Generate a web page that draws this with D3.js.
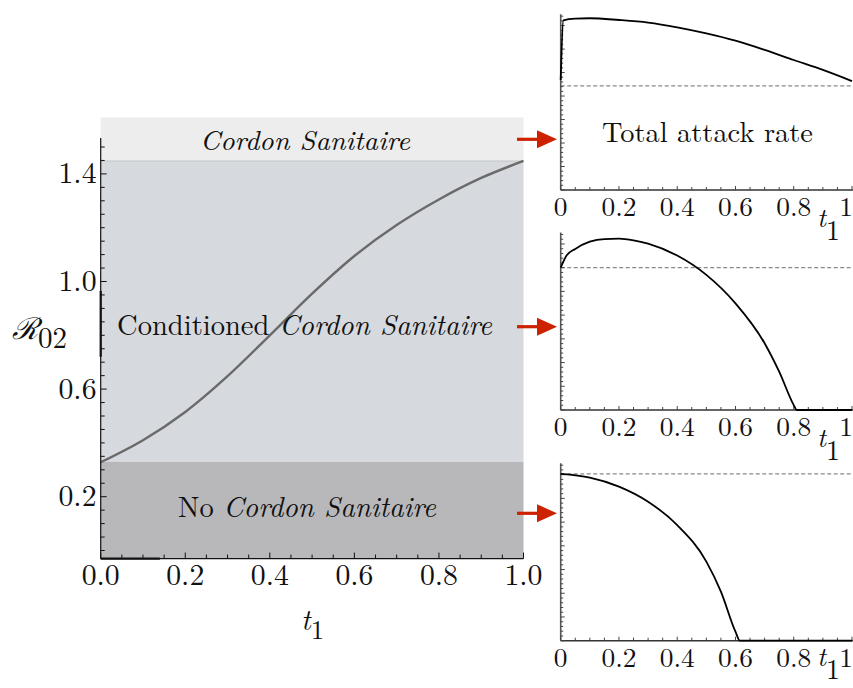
<!DOCTYPE html>
<html><head><meta charset="utf-8">
<script src="https://cdn.jsdelivr.net/npm/d3@7"></script>
</head><body style="margin:0;background:#fff">
<svg id="c" width="853" height="688" style="display:block"></svg>
<script>
// ---------- data ----------
const mainT = [0,0.1,0.2,0.3,0.4,0.5,0.6,0.7,0.8,0.9,1.0];
const r02Boundary = [0.328,0.41,0.515,0.648,0.80,0.955,1.095,1.21,1.305,1.385,1.448];
const bandNames = ["Cordon Sanitaire","Conditioned Cordon Sanitaire","No Cordon Sanitaire"];
const bandLower = [1.448,0.33,-0.03];
const bandUpper = [1.61,1.448,0.33];
const mainXTicks = [0,0.2,0.4,0.6,0.8,1.0];
const mainYTicks = [0.2,0.6,1.0,1.4];

const topT = [0,0.009,0.05,0.1,0.2,0.3,0.4,0.5,0.6,0.7,0.8,0.9,1.0];
const topV = [0.632,0.975,0.985,0.987,0.977,0.962,0.935,0.900,0.858,0.805,0.747,0.690,0.626];
const midT = [0,0.02,0.05,0.1,0.15,0.2,0.25,0.3,0.4,0.5,0.6,0.7,0.75,0.8,0.81,0.9,1.0];
const midV = [0.81,0.879,0.917,0.958,0.973,0.975,0.966,0.947,0.879,0.769,0.607,0.38,0.218,0.028,0,0,0];
const botT = [0,0.1,0.2,0.3,0.4,0.5,0.55,0.6,0.615,0.7,0.8,0.9,1.0];
const botV = [0.949,0.928,0.877,0.791,0.658,0.45,0.279,0.051,0,0,0,0,0];
const dashLevels = [0.598,0.81,0.949];
const smallXTicks = [0,0.2,0.4,0.6,0.8,1];
const smallXLabels = ["0","0.2","0.4","0.6","0.8","1"];

const FONT = "'Latin Modern Roman','Liberation Serif',serif";
const svg = d3.select("#c");
function T(sel){ return sel.style("font-family",FONT).attr("fill","#111"); }
function fit(node, target){ // scale font size so the text's width equals target
  const w = node.getComputedTextLength();
  const fs = parseFloat(node.getAttribute("font-size"));
  return fs*target/w;
}

// ---------- main chart ----------
const x = d3.scaleLinear().domain([0,1]).range([100.7,523.5]);
const y = d3.scaleLinear().domain([0,1.4]).range([550.5,550.5-269*1.4]);
const bandFill = ["#ededed","#d6d9dd","#b8b8bb"];

svg.selectAll("rect.band").data(bandNames).join("rect")
  .attr("x", x(0)).attr("width", x(1)-x(0))
  .attr("y", (d,i)=>y(bandUpper[i])).attr("height",(d,i)=>y(bandLower[i])-y(bandUpper[i]))
  .attr("fill",(d,i)=>bandFill[i]);
svg.append("line").attr("x1",x(0)).attr("x2",x(1)).attr("y1",y(bandLower[0])).attr("y2",y(bandLower[0]))
  .attr("stroke","#c3c6ca").attr("stroke-width",1);

svg.append("path").datum(mainT.map((t,i)=>[t,r02Boundary[i]]))
  .attr("d", d3.line().x(d=>x(d[0])).y(d=>y(d[1])).curve(d3.curveCatmullRom))
  .attr("fill","none").attr("stroke","#6a6a6a").attr("stroke-width",2.4);

const yMin=-0.03, yMax=1.533;
const ax = svg.append("g").attr("stroke","#111");
ax.append("line").attr("x1",x(0)).attr("x2",x(0)).attr("y1",y(yMax)).attr("y2",y(yMin)).attr("stroke-width",1.2);
ax.append("line").attr("x1",x(0)).attr("x2",x(1)).attr("y1",y(yMin)).attr("y2",y(yMin)).attr("stroke-width",1.2);
ax.append("line").attr("x1",x(0)).attr("x2",x(0.14)).attr("y1",y(yMin)).attr("y2",y(yMin)).attr("stroke-width",2.2);
ax.append("line").attr("x1",x(0)).attr("x2",x(0)).attr("y1",y(0.965)).attr("y2",y(0.72)).attr("stroke-width",2.2);
d3.range(0,1.0001,0.05).forEach(v=>{
  const major = Math.abs(v*5-Math.round(v*5))<1e-6;
  ax.append("line").attr("x1",x(v)).attr("x2",x(v)).attr("y1",y(yMin)).attr("y2",y(yMin)-(major?6:4)).attr("stroke-width",1);
});
d3.range(0,1.5301,0.05).forEach(v=>{
  const major = mainYTicks.some(t=>Math.abs(t-v)<1e-6);
  ax.append("line").attr("x1",x(0)).attr("x2",x(0)+(major?6:4)).attr("y1",y(v)).attr("y2",y(v)).attr("stroke-width",1);
});

// tick labels, size fitted to the reference widths
const probe = T(svg.append("text").attr("font-size",100).text("0.0"));
const tickFs = fit(probe.node(), 38); probe.remove();
T(svg.selectAll("text.xt").data(mainXTicks).join("text"))
  .attr("x",d=>x(d)).attr("y",y(yMin)+26).attr("text-anchor","middle").attr("font-size",tickFs)
  .text(d=>d.toFixed(1));
T(svg.selectAll("text.yt").data(mainYTicks).join("text"))
  .attr("x",96.5).attr("y",d=>y(d)+tickFs*0.32).attr("text-anchor","end").attr("font-size",tickFs)
  .text(d=>d.toFixed(1));

// axis titles
const xt = T(svg.append("text").attr("x",301).attr("y",630).attr("font-size",29));
xt.append("tspan").attr("font-style","italic").text("t");
xt.append("tspan").attr("dy",9).attr("font-size",27).text("1");
const yt = T(svg.append("text").attr("x",12).attr("y",339).attr("font-size",30));
yt.append("tspan").attr("font-style","italic").text("ℛ");
yt.append("tspan").attr("dy",9).attr("font-size",29).text("02");

// band labels
const labelBase = [150, 335, 517];
const labelCx = [305, 304.5, 307];
const labelW = [210, 375, 258];
bandNames.forEach((name,i)=>{
  const t = T(svg.append("text").attr("x",labelCx[i]).attr("y",labelBase[i]).attr("text-anchor","middle").attr("font-size",25));
  const parts = name.split("Cordon Sanitaire");
  if (parts[0]) t.append("tspan").text(parts[0]);
  t.append("tspan").attr("font-style","italic").text("Cordon Sanitaire");
  t.attr("font-size", fit(t.node(), labelW[i]));
});

// arrows
const arrowY = [139.3, 326.7, 513.3];
arrowY.forEach(ay=>{
  svg.append("line").attr("x1",517).attr("x2",540).attr("y1",ay).attr("y2",ay).attr("stroke","#cc2200").attr("stroke-width",3.2);
  svg.append("path").attr("d",`M537,${ay-9}L557,${ay}L537,${ay+9}Z`).attr("fill","#cc2200");
});

// ---------- small charts ----------
const sx = d3.scaleLinear().domain([0,1]).range([560.7,852]);
const probe2 = T(svg.append("text").attr("font-size",100).text("0.2"));
const sFs = fit(probe2.node(), 35); probe2.remove();
const smalls = [
  {t:topT, v:topV, bottom:190, top:16, dash:dashLevels[0], lab:"Total attack rate"},
  {t:midT, v:midV, bottom:410, top:234.3, dash:dashLevels[1]},
  {t:botT, v:botV, bottom:640.7, top:465, dash:dashLevels[2]}
];
smalls.forEach(s=>{
  const sy = d3.scaleLinear().domain([0,1]).range([s.bottom,s.top]);
  const g = svg.append("g");
  g.append("line").attr("x1",sx(0)).attr("x2",sx(1)).attr("y1",sy(s.dash)).attr("y2",sy(s.dash))
    .attr("stroke","#8a8a8a").attr("stroke-width",1.2).attr("stroke-dasharray","4,2.5");
  g.append("line").attr("x1",sx(0)).attr("x2",sx(0)).attr("y1",sy(1.01)).attr("y2",sy(0)).attr("stroke","#555").attr("stroke-width",1.6);
  g.append("line").attr("x1",sx(0)).attr("x2",sx(1)+2).attr("y1",sy(0)).attr("y2",sy(0)).attr("stroke","#333").attr("stroke-width",1.4);
  d3.range(0,1.0001,0.05).forEach(v=>{
    const major = Math.abs(v*5-Math.round(v*5))<1e-6;
    g.append("line").attr("x1",sx(v)).attr("x2",sx(v)).attr("y1",sy(0)).attr("y2",sy(0)-(major?4:3)).attr("stroke","#444").attr("stroke-width",1);
  });
  d3.range(0,1.001,0.027).forEach((v,i)=>{
    g.append("line").attr("x1",sx(0)).attr("x2",sx(0)+(i%5==0?4:2.5)).attr("y1",sy(v)).attr("y2",sy(v)).attr("stroke","#444").attr("stroke-width",1);
  });
  g.append("path").datum(s.t.map((t,i)=>[t,s.v[i]]))
    .attr("d", d3.line().x(d=>sx(d[0])).y(d=>sy(d[1])).curve(d3.curveMonotoneX))
    .attr("fill","none").attr("stroke","#000").attr("stroke-width",1.8);
  T(g.selectAll("text.sxt").data(smallXTicks).join("text"))
    .attr("x",(d,i)=>i===smallXTicks.length-1 ? 853 : sx(d))
    .attr("text-anchor",(d,i)=>i===smallXTicks.length-1 ? "end" : "middle")
    .attr("y",s.bottom+26).attr("font-size",sFs)
    .text((d,i)=>smallXLabels[i]);
  const tb = Math.min(s.bottom+37, 666);
  const tl = T(g.append("text").attr("x",817).attr("y",tb).attr("font-size",27));
  tl.append("tspan").attr("font-style","italic").text("t");
  tl.append("tspan").attr("dy",13).attr("font-size",28).text("1");
  if (s.lab){
    const lt = T(g.append("text").attr("x",707.5).attr("y",142).attr("text-anchor","middle").attr("font-size",25).text(s.lab));
    lt.attr("font-size", fit(lt.node(), 211));
  }
});
</script>
</body></html>
